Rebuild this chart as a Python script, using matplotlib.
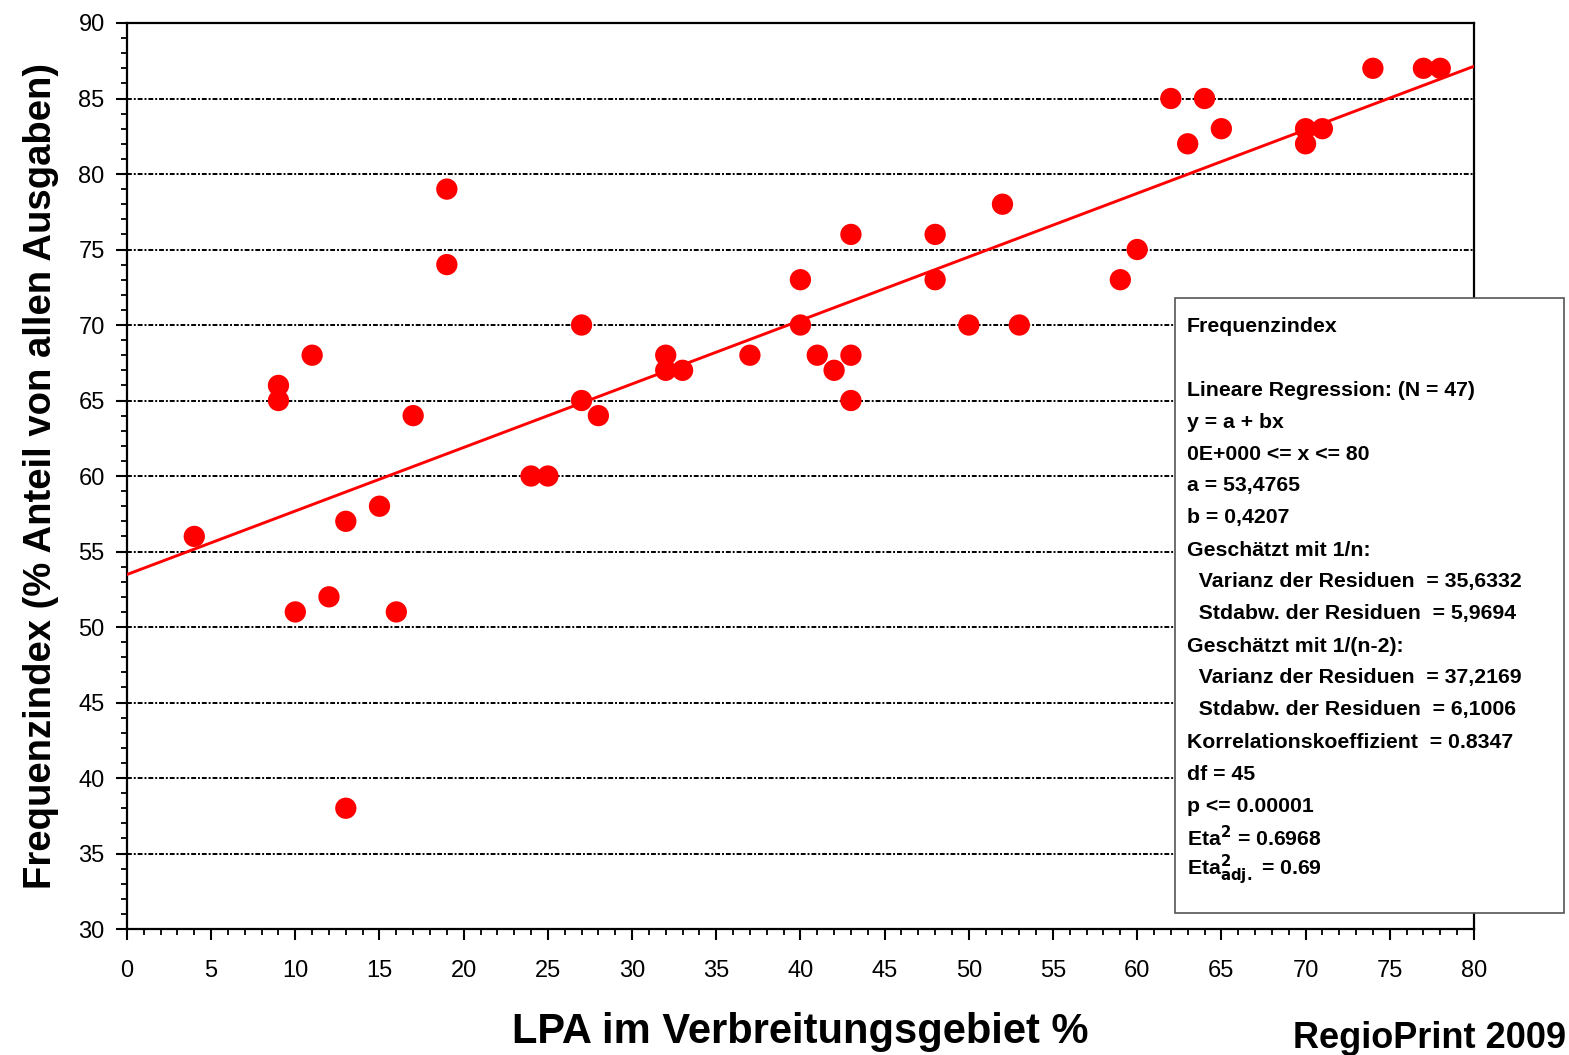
import numpy as np
import matplotlib.pyplot as plt
from matplotlib.ticker import MultipleLocator
from matplotlib.patches import Rectangle

plt.rcParams['font.family'] = ['Liberation Sans', 'DejaVu Sans']

# LPA im Verbreitungsgebiet (%) and Frequenzindex
lpa = [4, 9, 9, 10, 11, 12, 13, 13, 15, 16, 17, 19, 19, 24, 25, 27, 27, 28,
       32, 32, 33, 37, 40, 40, 41, 42, 43, 43, 43, 48, 48, 50, 52, 53, 59, 60,
       62, 63, 64, 65, 70, 70, 71, 74, 77, 78]
freq = [56, 66, 65, 51, 68, 52, 57, 38, 58, 51, 64, 79, 74, 60, 60, 70, 65, 64,
        68, 67, 67, 68, 73, 70, 68, 67, 76, 68, 65, 76, 73, 70, 78, 70, 73, 75,
        85, 82, 85, 83, 83, 82, 83, 87, 87, 87]

# regression from the stats box
a, b = 53.4765, 0.4207
x_range = [0, 80]

stats_lines = [
    "Frequenzindex",
    "",
    "Lineare Regression: (N = 47)",
    "y = a + bx",
    "0E+000 <= x <= 80",
    "a = 53,4765",
    "b = 0,4207",
    "Geschätzt mit 1/n:",
    "  Varianz der Residuen  = 35,6332",
    "  Stdabw. der Residuen  = 5,9694",
    "Geschätzt mit 1/(n-2):",
    "  Varianz der Residuen  = 37,2169",
    "  Stdabw. der Residuen  = 6,1006",
    "Korrelationskoeffizient  = 0.8347",
    "df = 45",
    "p <= 0.00001",
    r"Eta$^{\mathbf{2}}$ = 0.6968",
    r"Eta$^{\mathbf{2}}_{\mathbf{adj.}}$ = 0.69",
]

fig = plt.figure(figsize=(15.69, 10.55), dpi=100)
ax = fig.add_axes([0.0809, 0.1194, 0.8585, 0.8588])

xl = np.array(x_range)
ax.plot(xl, a + b * xl, color='red', lw=2.1, zorder=3)
ax.scatter(lpa, freq, s=235, color='red', edgecolors='none', zorder=4)

ax.set_xlim(0, 80)
ax.set_ylim(30, 90)
ax.xaxis.set_major_locator(MultipleLocator(5))
ax.xaxis.set_minor_locator(MultipleLocator(1))
ax.yaxis.set_major_locator(MultipleLocator(5))
ax.yaxis.set_minor_locator(MultipleLocator(1))
ax.tick_params(which='major', direction='out', length=8, width=1.5, labelsize=17)
ax.tick_params(axis='x', which='major', pad=14)
ax.tick_params(axis='y', which='major', pad=8)
ax.tick_params(which='minor', direction='out', length=4, width=1.3)
for s in ax.spines.values():
    s.set_linewidth(1.6)

for yv in range(35, 90, 5):
    ax.axhline(yv, color='black', lw=1.4, ls=(0, (2.5, 1, 1, 1)), zorder=1)

ax.set_xlabel("LPA im Verbreitungsgebiet %", fontsize=30, fontweight='bold', labelpad=22)
ax.set_ylabel("Frequenzindex (% Anteil von allen Ausgaben)", fontsize=27.5,
              fontweight='bold', labelpad=14)

# stats box
bx0, by0, bx1, by1 = 1175, 298, 1564, 913
W, H = 1569, 1055
fig.patches.append(Rectangle((bx0 / W, 1 - by1 / H), (bx1 - bx0) / W, (by1 - by0) / H,
                             transform=fig.transFigure, facecolor='white',
                             edgecolor='#555555', lw=1.2, zorder=10))
y0 = 326
for i, line in enumerate(stats_lines):
    fig.text(1187 / W, 1 - (y0 + 32 * i) / H, line, fontsize=15.3, fontweight='bold',
             va='center', ha='left', zorder=11)

fig.text(1566 / W, 1 - 1038 / H, "RegioPrint 2009", fontsize=26, fontweight='bold',
         ha='right', va='center')

fig.savefig('out.png', dpi=100)
